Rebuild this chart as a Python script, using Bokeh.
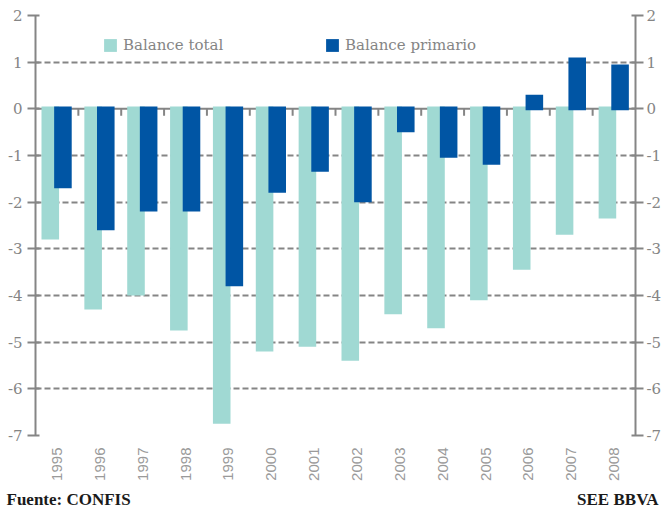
import numpy as np
from bokeh.plotting import figure
from bokeh.models import (Range1d, FixedTicker, LinearAxis, Span, Legend, LegendItem, Label)
from bokeh.embed import file_html
from bokeh.resources import INLINE

years = ["1995", "1996", "1997", "1998", "1999", "2000", "2001", "2002",
         "2003", "2004", "2005", "2006", "2007", "2008"]
balance_total = [-2.8, -4.3, -4.0, -4.75, -6.75, -5.2, -5.1, -5.4, -4.4, -4.7, -4.1, -3.45, -2.7, -2.35]
balance_primario = [-1.7, -2.6, -2.2, -2.2, -3.8, -1.8, -1.35, -2.0, -0.5, -1.05, -1.2, 0.3, 1.1, 0.95]
y_ticks = [-7, -6, -5, -4, -3, -2, -1, 0, 1, 2]

TEAL = "#a0d9d3"
BLUE = "#0055a4"
GRAY = "#858585"
SERIF = "DejaVu Serif"

n = len(years)
centers = np.arange(n) + 0.5
boundaries = np.arange(1, n)

def base(vals):
    v = np.asarray(vals)
    return np.where(v < 0, 0.05, -0.03)

p = figure(frame_width=600, frame_height=420, output_backend="svg", toolbar_location=None,
           x_range=Range1d(0, n), y_range=Range1d(min(y_ticks), max(y_ticks)),
           min_border_left=35, min_border_right=5, min_border_top=15, min_border_bottom=53,
           outline_line_color=None)

p.xgrid.visible = False
p.ygrid.ticker = FixedTicker(ticks=[t for t in y_ticks if t != 0])
p.ygrid.grid_line_color = GRAY
p.ygrid.grid_line_width = 2
p.ygrid.grid_line_dash = "6 3"

zero = Span(location=0, dimension="width", line_color=GRAY, line_width=2, level="underlay")
p.add_layout(zero)
p.segment(x0=boundaries, x1=boundaries, y0=0, y1=-0.15, line_color=GRAY, line_width=2)

r1 = p.vbar(x=centers - 0.155, top=balance_total, bottom=base(balance_total), width=0.41,
            fill_color=TEAL, line_color=None)
r2 = p.vbar(x=centers + 0.14, top=balance_primario, bottom=base(balance_primario), width=0.41,
            fill_color=BLUE, line_color=None)

# axes
p.xaxis.ticker = FixedTicker(ticks=list(centers))
p.xaxis.major_label_overrides = {float(c): y for c, y in zip(centers, years)}
p.xaxis.major_label_orientation = np.pi / 2
p.xaxis.axis_line_color = None
p.xaxis.major_tick_line_color = None
p.xaxis.minor_tick_line_color = None
p.xaxis.major_tick_out = 0
p.xaxis.major_tick_in = 0
p.xaxis.major_label_standoff = 12
p.xaxis.major_label_text_font = "Liberation Sans"
p.xaxis.major_label_text_font_size = "15px"
p.xaxis.major_label_text_color = "#9a9a9a"

y_labels = {t: str(t) for t in y_ticks}

def style_y(ax, standoff):
    ax.ticker = FixedTicker(ticks=y_ticks)
    ax.major_label_overrides = y_labels
    ax.axis_line_color = GRAY
    ax.axis_line_width = 2
    ax.major_tick_line_color = GRAY
    ax.major_tick_line_width = 2
    ax.major_tick_out = 8
    ax.major_tick_in = 4
    ax.minor_tick_line_color = None
    ax.major_label_standoff = standoff
    ax.major_label_text_font = SERIF
    ax.major_label_text_font_size = "15px"
    ax.major_label_text_color = GRAY

style_y(p.yaxis[0], 5)
right = LinearAxis()
style_y(right, 3)
p.add_layout(right, "right")

legend = Legend(items=[LegendItem(label="Balance total", renderers=[r1]),
                       LegendItem(label="Balance primario", renderers=[r2])],
                orientation="horizontal", location=(67, 381),
                glyph_width=16, glyph_height=16, label_standoff=5, label_width=190,
                spacing=11, padding=0, margin=0,
                border_line_color=None, background_fill_alpha=0,
                label_text_font=SERIF, label_text_font_size="15px", label_text_color=GRAY)
p.add_layout(legend)

foot = figure(width=660, height=20, output_backend="svg", toolbar_location=None,
              x_range=Range1d(0, 1), y_range=Range1d(0, 1),
              x_axis_type=None, y_axis_type=None, outline_line_color=None,
              min_border=0)
foot.xgrid.visible = False
foot.ygrid.visible = False
foot.add_layout(Label(x=0, y=0.45, x_offset=6, text="Fuente: CONFIS",
                      text_font="Liberation Serif", text_font_style="bold", text_font_size="17px",
                      text_color="#1a1a1a", text_baseline="middle", text_align="left"))
foot.add_layout(Label(x=1, y=0.45, x_offset=-2, text="SEE BBVA",
                      text_font="Liberation Serif", text_font_style="bold", text_font_size="17px",
                      text_color="#1a1a1a", text_baseline="middle", text_align="right"))

open("out.html", "w").write(file_html([p, foot], INLINE))
